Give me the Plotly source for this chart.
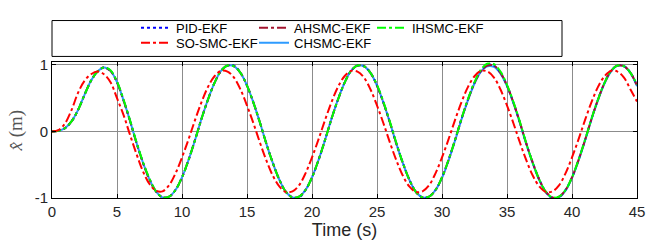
import plotly.graph_objects as go

# time samples (s)
time_s = [i * 0.5 for i in range(91)]

pid_ekf = [0.00, 0.01, 0.05, 0.15, 0.32, 0.55, 0.76, 0.90, 0.96, 0.91,
           0.74, 0.47, 0.16, -0.17, -0.47, -0.72, -0.90, -0.99, -0.98, -0.88,
           -0.69, -0.43, -0.13, 0.19, 0.48, 0.73, 0.91, 0.99, 0.99, 0.88,
           0.69, 0.43, 0.13, -0.19, -0.48, -0.73, -0.91, -0.99, -0.99, -0.88,
           -0.69, -0.43, -0.13, 0.19, 0.48, 0.73, 0.91, 0.99, 0.98, 0.88,
           0.69, 0.43, 0.13, -0.19, -0.48, -0.73, -0.91, -0.99, -0.98, -0.88,
           -0.69, -0.43, -0.13, 0.19, 0.48, 0.73, 0.91, 1.00, 0.99, 0.88,
           0.69, 0.43, 0.13, -0.19, -0.48, -0.73, -0.91, -1.00, -0.99, -0.88,
           -0.69, -0.43, -0.13, 0.19, 0.48, 0.73, 0.91, 0.99, 0.98, 0.88,
           0.69]

ahsmc_ekf = [0.00, 0.01, 0.05, 0.15, 0.32, 0.55, 0.76, 0.90, 0.96, 0.91,
             0.74, 0.47, 0.16, -0.17, -0.47, -0.72, -0.90, -0.99, -0.98, -0.88,
             -0.69, -0.43, -0.13, 0.19, 0.48, 0.73, 0.91, 0.99, 0.98, 0.88,
             0.69, 0.43, 0.13, -0.19, -0.48, -0.73, -0.91, -0.99, -0.98, -0.88,
             -0.69, -0.43, -0.13, 0.19, 0.48, 0.73, 0.91, 0.99, 0.98, 0.88,
             0.69, 0.43, 0.13, -0.19, -0.48, -0.73, -0.91, -0.99, -0.98, -0.88,
             -0.69, -0.43, -0.13, 0.19, 0.48, 0.73, 0.91, 0.99, 0.99, 0.88,
             0.69, 0.43, 0.13, -0.19, -0.48, -0.73, -0.91, -0.99, -0.98, -0.88,
             -0.69, -0.43, -0.13, 0.19, 0.48, 0.73, 0.91, 0.99, 0.98, 0.88,
             0.69]

ihsmc_ekf = [0.00, 0.01, 0.05, 0.15, 0.32, 0.55, 0.76, 0.90, 0.96, 0.92,
             0.75, 0.48, 0.17, -0.16, -0.46, -0.71, -0.90, -0.99, -0.98, -0.88,
             -0.69, -0.43, -0.13, 0.19, 0.48, 0.73, 0.91, 0.99, 0.98, 0.88,
             0.69, 0.43, 0.13, -0.19, -0.48, -0.73, -0.91, -0.99, -0.98, -0.88,
             -0.69, -0.43, -0.13, 0.19, 0.48, 0.73, 0.91, 0.99, 0.98, 0.88,
             0.70, 0.44, 0.14, -0.18, -0.48, -0.73, -0.91, -0.99, -0.98, -0.88,
             -0.69, -0.43, -0.13, 0.19, 0.49, 0.74, 0.93, 1.02, 1.01, 0.90,
             0.70, 0.44, 0.14, -0.19, -0.48, -0.73, -0.91, -0.99, -0.98, -0.88,
             -0.69, -0.43, -0.13, 0.19, 0.48, 0.73, 0.91, 0.99, 0.98, 0.88,
             0.70]

so_smc_ekf = [0.00, 0.02, 0.12, 0.32, 0.58, 0.76, 0.86, 0.90, 0.86, 0.74,
              0.50, 0.25, -0.05, -0.34, -0.60, -0.79, -0.89, -0.90, -0.81, -0.63,
              -0.39, -0.12, 0.17, 0.44, 0.67, 0.83, 0.91, 0.90, 0.81, 0.63,
              0.39, 0.12, -0.17, -0.44, -0.67, -0.83, -0.91, -0.90, -0.81, -0.63,
              -0.39, -0.12, 0.17, 0.44, 0.67, 0.83, 0.91, 0.90, 0.81, 0.63,
              0.39, 0.12, -0.17, -0.44, -0.67, -0.83, -0.91, -0.90, -0.81, -0.63,
              -0.39, -0.12, 0.17, 0.44, 0.67, 0.83, 0.91, 0.90, 0.81, 0.63,
              0.39, 0.12, -0.17, -0.44, -0.67, -0.83, -0.91, -0.90, -0.81, -0.63,
              -0.39, -0.12, 0.17, 0.44, 0.67, 0.83, 0.91, 0.90, 0.81, 0.63,
              0.45]

chsmc_ekf = [0.00, 0.01, 0.05, 0.15, 0.32, 0.55, 0.76, 0.90, 0.96, 0.91,
             0.74, 0.47, 0.16, -0.17, -0.47, -0.72, -0.90, -0.99, -0.98, -0.88,
             -0.69, -0.43, -0.13, 0.19, 0.48, 0.73, 0.91, 0.99, 0.98, 0.88,
             0.69, 0.43, 0.13, -0.19, -0.48, -0.73, -0.91, -0.99, -0.98, -0.88,
             -0.69, -0.43, -0.13, 0.19, 0.48, 0.73, 0.91, 0.99, 0.98, 0.88,
             0.69, 0.43, 0.13, -0.19, -0.48, -0.73, -0.91, -0.99, -0.98, -0.88,
             -0.70, -0.44, -0.14, 0.18, 0.47, 0.72, 0.90, 0.98, 0.97, 0.87,
             0.68, 0.42, 0.12, -0.20, -0.49, -0.74, -0.92, -1.00, -0.99, -0.89,
             -0.70, -0.44, -0.14, 0.18, 0.47, 0.72, 0.90, 0.99, 0.98, 0.88,
             0.68]

x_ticks = [0, 5, 10, 15, 20, 25, 30, 35, 40, 45]
y_ticks = [-1, 0, 1]

series = [
    # name, values, color, dash, legend, rank
    ("CHSMC-EKF", chsmc_ekf, "#2E9BFF", "solid", "legend2", 2),
    ("PID-EKF", pid_ekf, "#0000FF", "dot", "legend", 1),
    ("AHSMC-EKF", ahsmc_ekf, "#A2142F", "dashdot", "legend", 2),
    ("IHSMC-EKF", ihsmc_ekf, "#00FF00", "dashdot", "legend", 3),
    ("SO-SMC-EKF", so_smc_ekf, "#FF0000", "dashdot", "legend2", 1),
]

fig = go.Figure()
for name, vals, color, dash, leg, rank in series:
    fig.add_trace(go.Scatter(
        x=time_s, y=vals, mode="lines", name=name,
        line=dict(color=color, width=2, dash=dash, shape="spline", smoothing=1.0),
        legend=leg, legendrank=rank,
    ))

W, H = 646, 242
plot_left, plot_right, plot_top, plot_bottom = 52, 637, 58, 198  # page px
ml, mt, mb = plot_left, 0, H - plot_bottom
mr = W - plot_right
pw = W - ml - mr
paper_h = H - mt - mb

def px_x(p):
    return (p - ml) / pw

def px_y(p):
    return (H - mb - p) / paper_h

font_main = "Liberation Sans, Arial, sans-serif"

leg_common = dict(
    orientation="h", xanchor="left", yanchor="middle",
    entrywidth=73, entrywidthmode="pixels",
    font=dict(family=font_main, size=13, color="black"),
    bgcolor="rgba(0,0,0,0)", borderwidth=0, traceorder="normal",
    tracegroupgap=0, itemwidth=30,
)

fig.update_layout(
    width=W, height=H,
    margin=dict(l=ml, r=mr, t=mt, b=mb, pad=0),
    paper_bgcolor="white", plot_bgcolor="white",
    font=dict(family=font_main, size=14, color="#262626"),
    legend=dict(x=px_x(136), y=px_y(22.5), **leg_common),
    legend2=dict(x=px_x(136), y=px_y(38), **leg_common),
    showlegend=True,
    shapes=[dict(
        type="rect", xref="paper", yref="paper",
        x0=px_x(52), x1=px_x(562), y0=px_y(52), y1=px_y(15),
        line=dict(color="black", width=1), fillcolor="rgba(0,0,0,0)",
    )],
)

fig.update_xaxes(
    range=[0, 45], tickvals=x_ticks, ticktext=[str(v) for v in x_ticks],
    showgrid=True, gridcolor="#8c8c8c", gridwidth=1,
    showline=True, linecolor="black", linewidth=1, mirror="ticks",
    ticks="inside", ticklen=4, tickcolor="black",
    zeroline=False, ticklabeloverflow="allow",
    tickfont=dict(family=font_main, size=15, color="#262626"),
    title=dict(text="Time (s)", font=dict(family=font_main, size=18, color="#262626"), standoff=2),
)
fig.update_yaxes(
    domain=[0, px_y(plot_top)],
    range=[-1.0, 1.04], tickvals=y_ticks, ticktext=["-1", "0", "1"],
    showgrid=True, gridcolor="#8c8c8c", gridwidth=1,
    showline=True, linecolor="black", linewidth=1, mirror="ticks",
    ticks="inside", ticklen=4, tickcolor="black",
    zeroline=False,
    tickfont=dict(family=font_main, size=15, color="#262626"),
    title=dict(text="<i>x̂</i> (m)", font=dict(family="Liberation Serif, DejaVu Serif, serif", size=19, color="#555555"), standoff=6),
)

fig.write_html(
    "out.html",
    config={"displayModeBar": False},
    post_script="document.body.style.margin='0';document.body.style.overflow='hidden';",
)
